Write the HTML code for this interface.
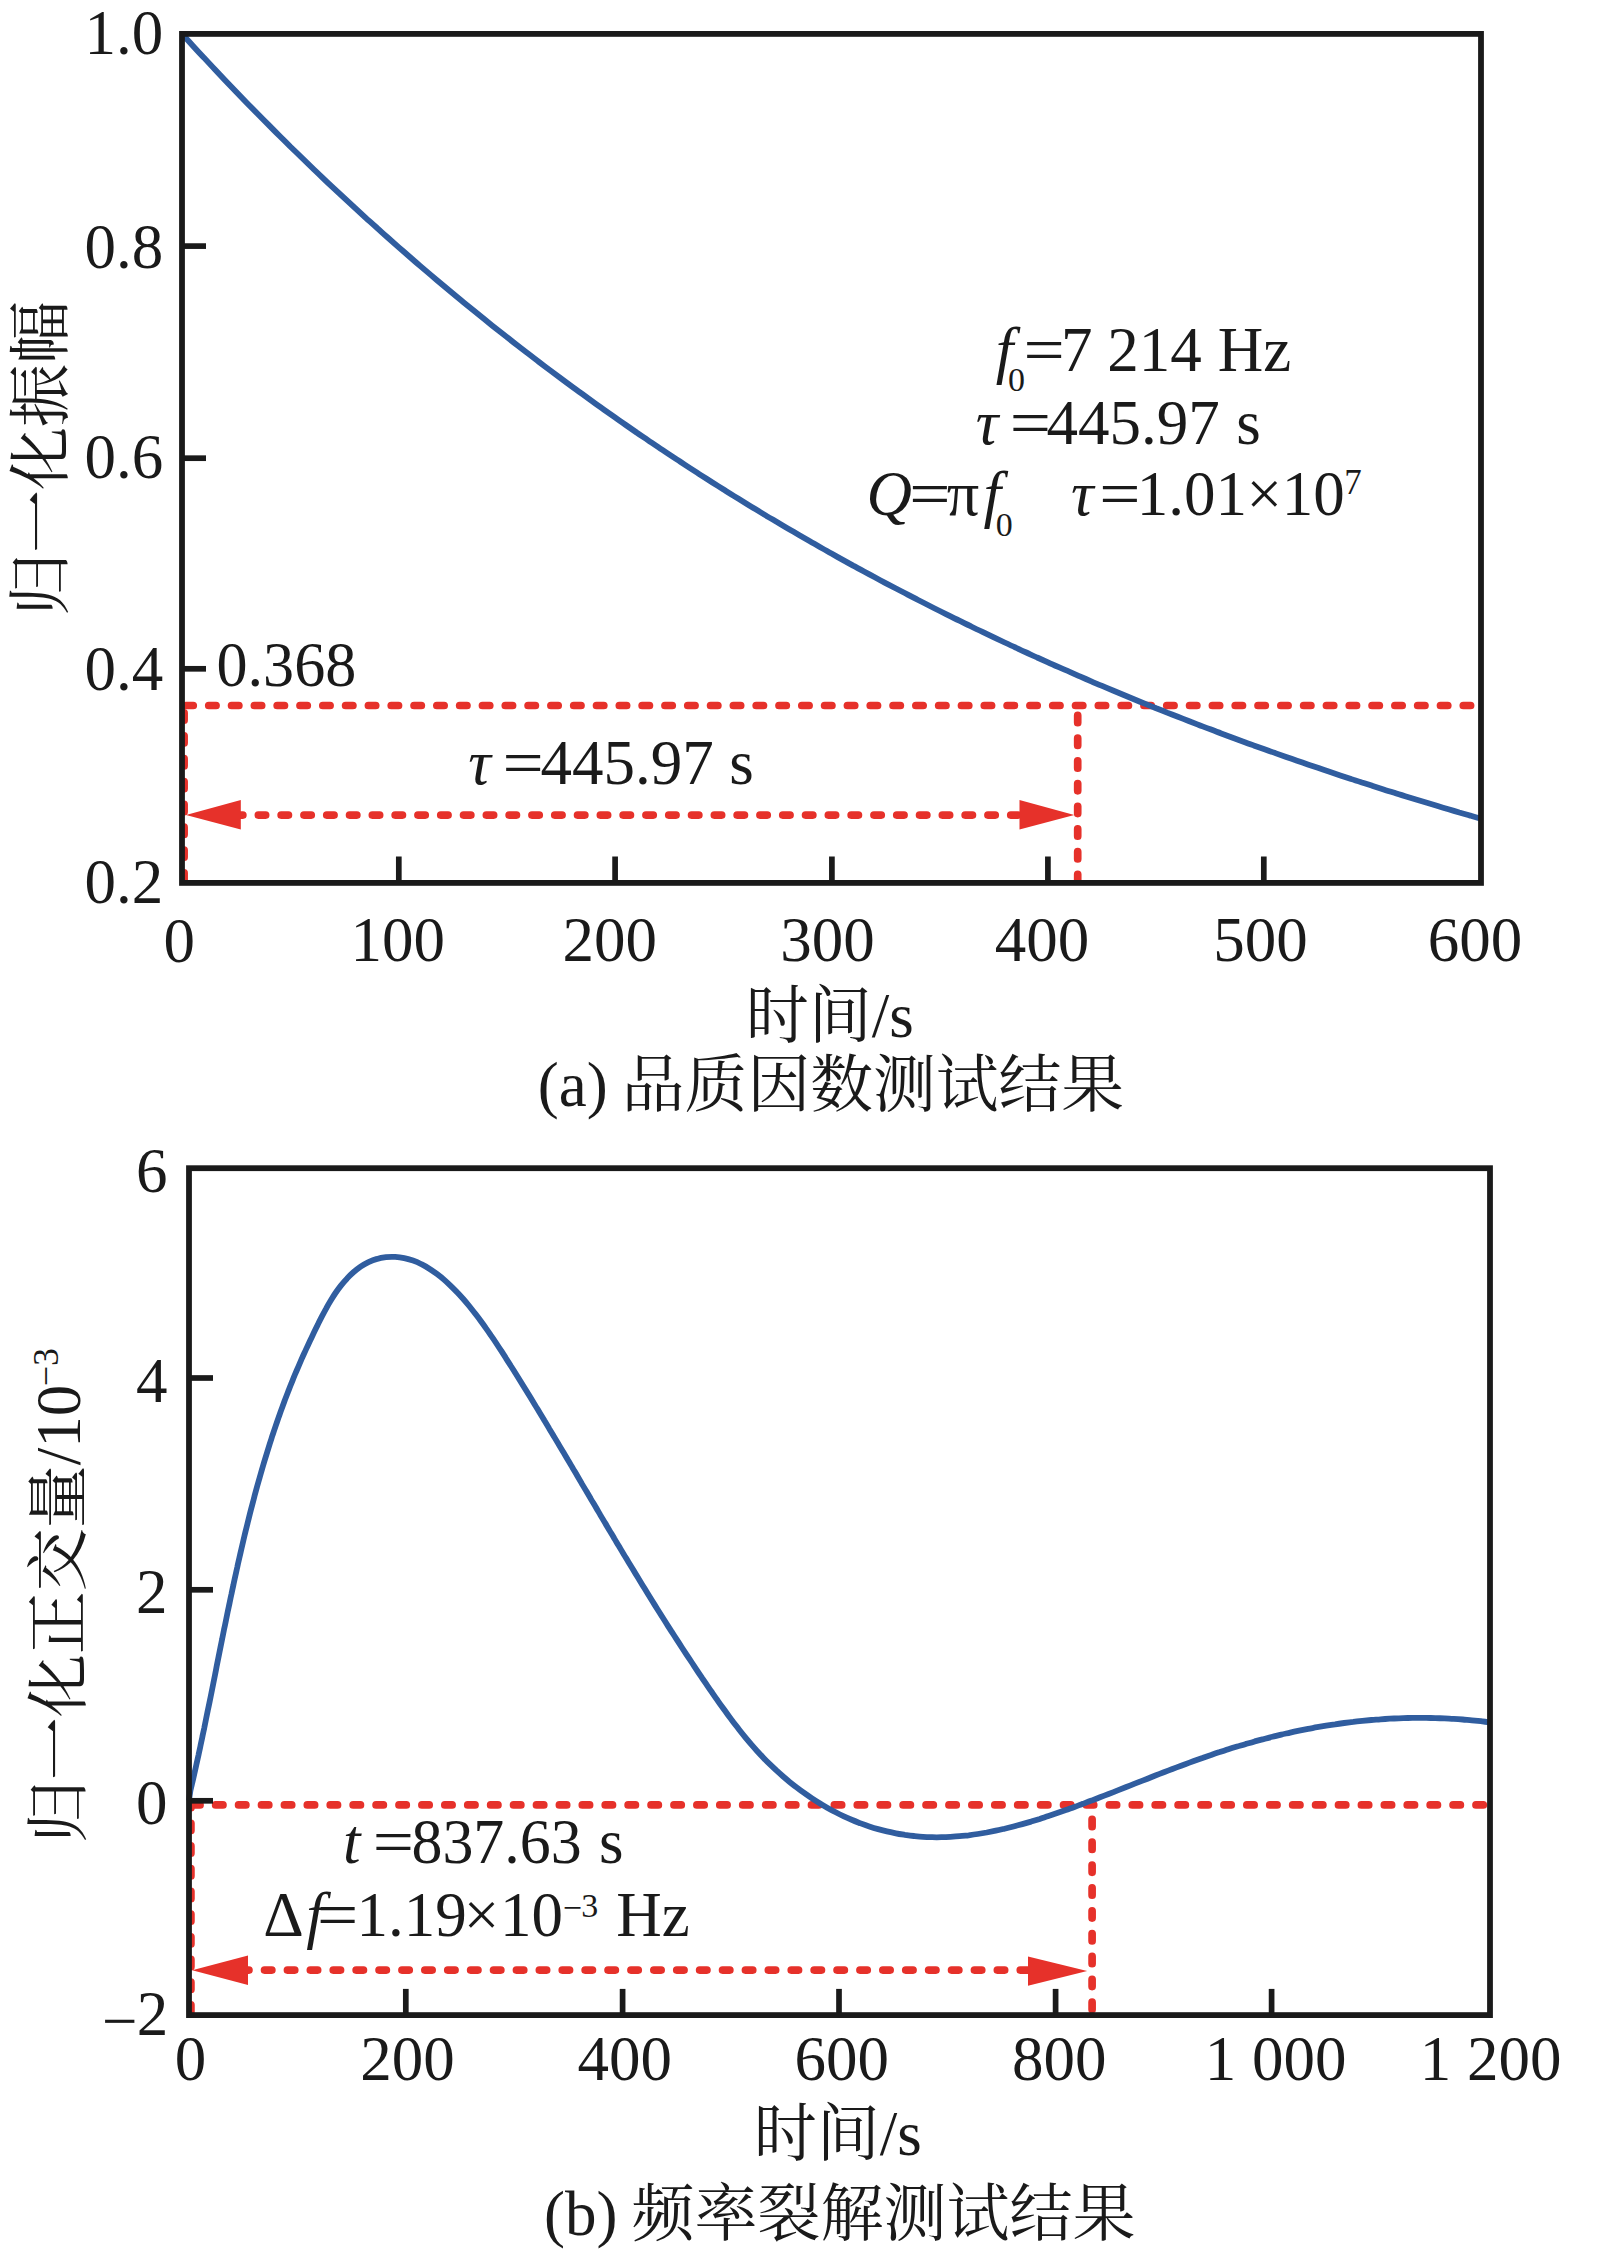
<!DOCTYPE html>
<html lang="zh">
<head>
<meta charset="utf-8">
<title>品质因数与频率裂解测试结果</title>
<style>
html,body{margin:0;padding:0;background:#fff;}
body{width:1598px;height:2261px;overflow:hidden;}
svg{display:block;}
text{fill:#1a1a1a;}
</style>
</head>
<body>
<svg width="1598" height="2261" viewBox="0 0 1598 2261">
<rect x="0" y="0" width="1598" height="2261" fill="#ffffff"/>
<g id="chart-a">
<path d="M185.94,705.5 H1478" fill="none" stroke="#e6312a" stroke-width="7.7" stroke-linecap="round" stroke-dasharray="7.3 15.510" stroke-dashoffset="0.00"/>
<path d="M184.1,705.5 V880" fill="none" stroke="#e6312a" stroke-width="7.7" stroke-linecap="round" stroke-dasharray="7.3 15.550" stroke-dashoffset="15.40"/>
<path d="M1077.7,705.5 V880" fill="none" stroke="#e6312a" stroke-width="7.7" stroke-linecap="round" stroke-dasharray="7.3 15.400" stroke-dashoffset="12.75"/>
<path d="M235.55,815.1 H1019" fill="none" stroke="#e6312a" stroke-width="7.7" stroke-linecap="round" stroke-dasharray="7.3 15.500" stroke-dashoffset="0.00"/>
<polygon points="186,815 240.8,800.1 240.8,829.6" fill="#e6312a"/>
<polygon points="1074.3,814.9 1019.5,800.1 1019.5,829.6" fill="#e6312a"/>
<path d="M182.0,33.9 C183.8,35.9 189.2,41.8 192.8,45.7 C196.4,49.7 200.0,53.6 203.7,57.4 C207.3,61.3 210.9,65.2 214.5,69.0 C218.1,72.8 221.7,76.6 225.3,80.4 C228.9,84.2 232.5,88.0 236.1,91.8 C239.7,95.5 243.3,99.2 246.9,102.9 C250.6,106.6 254.2,110.3 257.8,114.0 C261.4,117.7 265.0,121.3 268.6,124.9 C272.2,128.6 275.8,132.2 279.4,135.8 C283.0,139.3 286.6,142.9 290.2,146.5 C293.9,150.0 297.5,153.5 301.1,157.0 C304.7,160.5 308.3,164.0 311.9,167.5 C315.5,171.0 319.1,174.4 322.7,177.8 C326.3,181.3 329.9,184.7 333.6,188.1 C337.2,191.5 340.8,194.8 344.4,198.2 C348.0,201.5 351.6,204.9 355.2,208.2 C358.8,211.5 362.4,214.8 366.0,218.1 C369.6,221.3 373.2,224.6 376.9,227.8 C380.5,231.1 384.1,234.3 387.7,237.5 C391.3,240.7 394.9,243.9 398.5,247.1 C402.1,250.2 405.7,253.4 409.3,256.5 C412.9,259.7 416.5,262.8 420.1,265.9 C423.8,269.0 427.4,272.1 431.0,275.1 C434.6,278.2 438.2,281.2 441.8,284.3 C445.4,287.3 449.0,290.3 452.6,293.3 C456.2,296.3 459.8,299.3 463.4,302.2 C467.1,305.2 470.7,308.2 474.3,311.1 C477.9,314.0 481.5,316.9 485.1,319.8 C488.7,322.7 492.3,325.6 495.9,328.5 C499.5,331.3 503.1,334.2 506.8,337.0 C510.4,339.9 514.0,342.7 517.6,345.5 C521.2,348.3 524.8,351.1 528.4,353.8 C532.0,356.6 535.6,359.4 539.2,362.1 C542.8,364.8 546.4,367.6 550.0,370.3 C553.7,373.0 557.3,375.7 560.9,378.3 C564.5,381.0 568.1,383.7 571.7,386.3 C575.3,389.0 578.9,391.6 582.5,394.2 C586.1,396.9 589.7,399.5 593.4,402.1 C597.0,404.6 600.6,407.2 604.2,409.8 C607.8,412.3 611.4,414.9 615.0,417.4 C618.6,420.0 622.2,422.5 625.8,425.0 C629.4,427.5 633.0,430.0 636.6,432.5 C640.3,434.9 643.9,437.4 647.5,439.8 C651.1,442.3 654.7,444.7 658.3,447.1 C661.9,449.6 665.5,452.0 669.1,454.4 C672.7,456.8 676.3,459.1 680.0,461.5 C683.6,463.9 687.2,466.2 690.8,468.6 C694.4,470.9 698.0,473.2 701.6,475.6 C705.2,477.9 708.8,480.2 712.4,482.5 C716.0,484.8 719.6,487.0 723.2,489.3 C726.9,491.6 730.5,493.8 734.1,496.1 C737.7,498.3 741.3,500.5 744.9,502.7 C748.5,505.0 752.1,507.2 755.7,509.3 C759.3,511.5 762.9,513.7 766.5,515.9 C770.2,518.0 773.8,520.2 777.4,522.3 C781.0,524.5 784.6,526.6 788.2,528.7 C791.8,530.8 795.4,532.9 799.0,535.0 C802.6,537.1 806.2,539.2 809.9,541.3 C813.5,543.3 817.1,545.4 820.7,547.5 C824.3,549.5 827.9,551.5 831.5,553.6 C835.1,555.6 838.7,557.6 842.3,559.6 C845.9,561.6 849.5,563.6 853.1,565.6 C856.8,567.5 860.4,569.5 864.0,571.5 C867.6,573.4 871.2,575.4 874.8,577.3 C878.4,579.2 882.0,581.2 885.6,583.1 C889.2,585.0 892.8,586.9 896.5,588.8 C900.1,590.7 903.7,592.6 907.3,594.4 C910.9,596.3 914.5,598.2 918.1,600.0 C921.7,601.9 925.3,603.7 928.9,605.5 C932.5,607.4 936.1,609.2 939.8,611.0 C943.4,612.8 947.0,614.6 950.6,616.4 C954.2,618.2 957.8,620.0 961.4,621.7 C965.0,623.5 968.6,625.3 972.2,627.0 C975.8,628.8 979.4,630.5 983.0,632.2 C986.7,634.0 990.3,635.7 993.9,637.4 C997.5,639.1 1001.1,640.8 1004.7,642.5 C1008.3,644.2 1011.9,645.9 1015.5,647.5 C1019.1,649.2 1022.7,650.9 1026.3,652.5 C1030.0,654.2 1033.6,655.8 1037.2,657.5 C1040.8,659.1 1044.4,660.7 1048.0,662.3 C1051.6,664.0 1055.2,665.6 1058.8,667.2 C1062.4,668.8 1066.0,670.4 1069.7,671.9 C1073.3,673.5 1076.9,675.1 1080.5,676.7 C1084.1,678.2 1087.7,679.8 1091.3,681.3 C1094.9,682.9 1098.5,684.4 1102.1,685.9 C1105.7,687.5 1109.3,689.0 1113.0,690.5 C1116.6,692.0 1120.2,693.5 1123.8,695.0 C1127.4,696.5 1131.0,698.0 1134.6,699.5 C1138.2,701.0 1141.8,702.4 1145.4,703.9 C1149.0,705.4 1152.6,706.8 1156.2,708.3 C1159.9,709.7 1163.5,711.1 1167.1,712.6 C1170.7,714.0 1174.3,715.4 1177.9,716.8 C1181.5,718.2 1185.1,719.6 1188.7,721.0 C1192.3,722.4 1195.9,723.8 1199.5,725.2 C1203.2,726.6 1206.8,728.0 1210.4,729.3 C1214.0,730.7 1217.6,732.1 1221.2,733.4 C1224.8,734.8 1228.4,736.1 1232.0,737.5 C1235.6,738.8 1239.2,740.1 1242.8,741.4 C1246.5,742.8 1250.1,744.1 1253.7,745.4 C1257.3,746.7 1260.9,748.0 1264.5,749.3 C1268.1,750.6 1271.7,751.9 1275.3,753.1 C1278.9,754.4 1282.5,755.7 1286.2,757.0 C1289.8,758.2 1293.4,759.5 1297.0,760.7 C1300.6,762.0 1304.2,763.2 1307.8,764.5 C1311.4,765.7 1315.0,766.9 1318.6,768.1 C1322.2,769.4 1325.8,770.6 1329.5,771.8 C1333.1,773.0 1336.7,774.2 1340.3,775.4 C1343.9,776.6 1347.5,777.8 1351.1,779.0 C1354.7,780.1 1358.3,781.3 1361.9,782.5 C1365.5,783.6 1369.1,784.8 1372.8,786.0 C1376.4,787.1 1380.0,788.3 1383.6,789.4 C1387.2,790.6 1390.8,791.7 1394.4,792.8 C1398.0,794.0 1401.6,795.1 1405.2,796.2 C1408.8,797.3 1412.4,798.4 1416.0,799.5 C1419.7,800.6 1423.3,801.7 1426.9,802.8 C1430.5,803.9 1434.1,805.0 1437.7,806.1 C1441.3,807.2 1444.9,808.2 1448.5,809.3 C1452.1,810.4 1455.7,811.4 1459.3,812.5 C1463.0,813.5 1466.6,814.6 1470.2,815.6 C1473.8,816.7 1479.2,818.2 1481.0,818.8" fill="none" stroke="#305d9f" stroke-width="5.8" stroke-linejoin="round"/>
<g stroke="#1a1a1a" stroke-width="5.7" fill="none">
<path d="M182.0,246.1 H206"/>
<path d="M182.0,458.2 H206"/>
<path d="M182.0,668.8 H206"/>
<path d="M398.8,882.9 V856.5"/>
<path d="M615.1,882.9 V856.5"/>
<path d="M831.9,882.9 V856.5"/>
<path d="M1047.9,882.9 V856.5"/>
<path d="M1263.8,882.9 V856.5"/>
</g>
<rect x="182.0" y="33.9" width="1299.0" height="849.0" fill="none" stroke="#1a1a1a" stroke-width="5.8"/>
<text x="163.2" y="54.0" font-size="63" text-anchor="end" font-family='"Liberation Serif", "Noto Serif CJK SC", serif' >1.0</text>
<text x="163.2" y="267.5" font-size="63" text-anchor="end" font-family='"Liberation Serif", "Noto Serif CJK SC", serif' >0.8</text>
<text x="163.2" y="478.0" font-size="63" text-anchor="end" font-family='"Liberation Serif", "Noto Serif CJK SC", serif' >0.6</text>
<text x="163.2" y="690.2" font-size="63" text-anchor="end" font-family='"Liberation Serif", "Noto Serif CJK SC", serif' >0.4</text>
<text x="163.2" y="903.0" font-size="63" text-anchor="end" font-family='"Liberation Serif", "Noto Serif CJK SC", serif' >0.2</text>
<text x="179.2" y="962.0" font-size="63" text-anchor="middle" font-family='"Liberation Serif", "Noto Serif CJK SC", serif' >0</text>
<text x="397.8" y="960.6" font-size="63" text-anchor="middle" font-family='"Liberation Serif", "Noto Serif CJK SC", serif' >100</text>
<text x="609.8" y="960.6" font-size="63" text-anchor="middle" font-family='"Liberation Serif", "Noto Serif CJK SC", serif' >200</text>
<text x="827.6" y="960.6" font-size="63" text-anchor="middle" font-family='"Liberation Serif", "Noto Serif CJK SC", serif' >300</text>
<text x="1041.9" y="960.6" font-size="63" text-anchor="middle" font-family='"Liberation Serif", "Noto Serif CJK SC", serif' >400</text>
<text x="1260.6" y="960.6" font-size="63" text-anchor="middle" font-family='"Liberation Serif", "Noto Serif CJK SC", serif' >500</text>
<text x="1475.0" y="960.6" font-size="63" text-anchor="middle" font-family='"Liberation Serif", "Noto Serif CJK SC", serif' >600</text>
<text transform="translate(62,616) rotate(-90)" font-size="63" font-family='"Noto Serif CJK SC", "Liberation Serif", serif'>归一化振幅</text>
<text x="745.7" y="1036.8" font-size="63" font-family='"Noto Serif CJK SC", "Liberation Serif", serif'>时间<tspan font-family='"Liberation Serif", "Noto Serif CJK SC", serif' font-size="63">/s</tspan></text>
<text x="537.8" y="1106.4" font-size="63" font-family='"Liberation Serif", "Noto Serif CJK SC", serif'>(a)</text>
<text x="621.8" y="1106.3" font-size="62.8" font-family='"Noto Serif CJK SC", "Liberation Serif", serif'>品质因数测试结果</text>
<text transform="translate(216.47,685.6) scale(0.9867,1)" font-size="63" font-family='"Liberation Serif", "Noto Serif CJK SC", serif'>0.368</text>
<text x="468.28" y="783.9" font-size="63" font-style="italic" font-family='"Liberation Serif", "Noto Serif CJK SC", serif'>τ</text>
<text transform="translate(502.44,783.9) scale(1.1606,1)" font-size="63" font-family='"Liberation Serif", "Noto Serif CJK SC", serif'>=</text>
<text x="540.41" y="783.9" font-size="63" font-family='"Liberation Serif", "Noto Serif CJK SC", serif'>445.97</text>
<text x="729.24" y="783.9" font-size="63" font-family='"Liberation Serif", "Noto Serif CJK SC", serif'>s</text>
<text x="995.87" y="370.5" font-size="63" font-style="italic" font-family='"Liberation Serif", "Noto Serif CJK SC", serif'>f</text>
<text x="1007.93" y="391.4" font-size="34" font-family='"Liberation Serif", "Noto Serif CJK SC", serif'>0</text>
<text transform="translate(1023.54,370.5) scale(1.1606,1)" font-size="63" font-family='"Liberation Serif", "Noto Serif CJK SC", serif'>=</text>
<text x="1060.97" y="370.5" font-size="63" font-family='"Liberation Serif", "Noto Serif CJK SC", serif'>7</text>
<text x="1107.28" y="370.5" font-size="63" font-family='"Liberation Serif", "Noto Serif CJK SC", serif'>214</text>
<text x="1217.80" y="370.5" font-size="63" font-family='"Liberation Serif", "Noto Serif CJK SC", serif'>Hz</text>
<text x="975.68" y="443.5" font-size="63" font-style="italic" font-family='"Liberation Serif", "Noto Serif CJK SC", serif'>τ</text>
<text transform="translate(1009.84,443.5) scale(1.1606,1)" font-size="63" font-family='"Liberation Serif", "Noto Serif CJK SC", serif'>=</text>
<text x="1046.61" y="443.5" font-size="63" font-family='"Liberation Serif", "Noto Serif CJK SC", serif'>445.97</text>
<text x="1236.14" y="443.5" font-size="63" font-family='"Liberation Serif", "Noto Serif CJK SC", serif'>s</text>
<text x="866.53" y="515.1" font-size="63" font-style="italic" font-family='"Liberation Serif", "Noto Serif CJK SC", serif'>Q</text>
<text transform="translate(909.14,515.1) scale(1.1606,1)" font-size="63" font-family='"Liberation Serif", "Noto Serif CJK SC", serif'>=</text>
<text transform="translate(946.80,515.1) scale(1.0205,1)" font-size="63" font-family='"Liberation Serif", "Noto Serif CJK SC", serif'>π</text>
<text x="983.57" y="515.1" font-size="63" font-style="italic" font-family='"Liberation Serif", "Noto Serif CJK SC", serif'>f</text>
<text x="995.73" y="535.5" font-size="34" font-family='"Liberation Serif", "Noto Serif CJK SC", serif'>0</text>
<text x="1070.98" y="515.1" font-size="63" font-style="italic" font-family='"Liberation Serif", "Noto Serif CJK SC", serif'>τ</text>
<text transform="translate(1099.14,515.1) scale(1.1606,1)" font-size="63" font-family='"Liberation Serif", "Noto Serif CJK SC", serif'>=</text>
<text x="1136.71" y="515.1" font-size="63" font-family='"Liberation Serif", "Noto Serif CJK SC", serif'>1.01</text>
<text x="1246.50" y="515.1" font-size="63" font-family='"Liberation Serif", "Noto Serif CJK SC", serif'>×</text>
<text x="1281.72" y="515.1" font-size="63" font-family='"Liberation Serif", "Noto Serif CJK SC", serif'>10</text>
<text x="1344.29" y="494.0" font-size="35" font-family='"Liberation Serif", "Noto Serif CJK SC", serif'>7</text>
</g>
<g id="chart-b">
<path d="M192.75,1804.9 H1487" fill="none" stroke="#e6312a" stroke-width="7.7" stroke-linecap="round" stroke-dasharray="7.3 15.615" stroke-dashoffset="0.00"/>
<path d="M190.9,1805 V2012" fill="none" stroke="#e6312a" stroke-width="7.7" stroke-linecap="round" stroke-dasharray="7.3 15.400" stroke-dashoffset="4.45"/>
<path d="M1092.1,1805 V2012" fill="none" stroke="#e6312a" stroke-width="7.7" stroke-linecap="round" stroke-dasharray="7.3 15.550" stroke-dashoffset="8.50"/>
<path d="M241.65,1970.1 H1028" fill="none" stroke="#e6312a" stroke-width="7.7" stroke-linecap="round" stroke-dasharray="7.3 15.600" stroke-dashoffset="0.00"/>
<polygon points="192.2,1970.2 248,1955.4 248,1984.9" fill="#e6312a"/>
<polygon points="1087.2,1971 1028,1956.4 1028,1985.7" fill="#e6312a"/>
<path d="M189.0,1800.5 C189.2,1798.9 189.9,1793.9 190.4,1790.8 C191.0,1787.7 191.8,1784.9 192.5,1781.9 C193.2,1778.9 193.9,1775.9 194.5,1773.0 C195.2,1770.0 195.9,1767.0 196.5,1764.0 C197.2,1761.1 197.8,1758.1 198.5,1755.1 C199.1,1752.1 199.8,1749.2 200.4,1746.2 C201.0,1743.2 201.7,1740.2 202.3,1737.2 C202.9,1734.3 203.5,1731.3 204.2,1728.3 C204.8,1725.3 205.4,1722.3 206.0,1719.3 C206.6,1716.4 207.2,1713.4 207.8,1710.4 C208.5,1707.4 209.1,1704.4 209.7,1701.4 C210.3,1698.4 210.9,1695.5 211.5,1692.5 C212.1,1689.5 212.7,1686.5 213.3,1683.5 C213.9,1680.5 214.5,1677.5 215.1,1674.5 C215.7,1671.6 216.3,1668.6 216.8,1665.6 C217.4,1662.6 218.0,1659.6 218.6,1656.6 C219.2,1653.6 219.8,1650.6 220.4,1647.6 C221.0,1644.7 221.6,1641.7 222.2,1638.7 C222.8,1635.7 223.4,1632.7 224.0,1629.7 C224.7,1626.7 225.3,1623.8 225.9,1620.8 C226.5,1617.8 227.1,1614.8 227.7,1611.8 C228.3,1608.8 229.0,1605.9 229.6,1602.9 C230.2,1599.9 230.8,1596.9 231.5,1593.9 C232.1,1590.9 232.7,1588.0 233.4,1585.0 C234.0,1582.0 234.7,1579.0 235.3,1576.1 C236.0,1573.1 236.6,1570.1 237.3,1567.1 C237.9,1564.2 238.6,1561.2 239.3,1558.2 C240.0,1555.2 240.6,1552.3 241.3,1549.3 C242.0,1546.3 242.7,1543.4 243.4,1540.4 C244.1,1537.4 244.8,1534.5 245.5,1531.5 C246.3,1528.5 247.0,1525.6 247.7,1522.6 C248.4,1519.7 249.2,1516.7 249.9,1513.8 C250.7,1510.8 251.4,1507.9 252.2,1504.9 C253.0,1502.0 253.8,1499.0 254.5,1496.1 C255.3,1493.1 256.1,1490.2 256.9,1487.3 C257.7,1484.3 258.6,1481.4 259.4,1478.5 C260.2,1475.5 261.1,1472.6 261.9,1469.7 C262.8,1466.7 263.6,1463.8 264.5,1460.9 C265.4,1458.0 266.3,1455.1 267.2,1452.2 C268.1,1449.2 269.0,1446.3 269.9,1443.4 C270.8,1440.5 271.8,1437.6 272.7,1434.7 C273.7,1431.8 274.6,1429.0 275.6,1426.1 C276.6,1423.2 277.6,1420.3 278.6,1417.4 C279.6,1414.6 280.6,1411.7 281.7,1408.8 C282.7,1406.0 283.8,1403.1 284.8,1400.2 C285.9,1397.4 287.0,1394.5 288.1,1391.7 C289.2,1388.9 290.3,1386.0 291.5,1383.2 C292.6,1380.4 293.7,1377.5 294.9,1374.7 C296.1,1371.9 297.3,1369.1 298.5,1366.3 C299.7,1363.5 300.9,1360.7 302.1,1357.9 C303.4,1355.2 304.6,1352.4 305.9,1349.6 C307.2,1346.8 308.5,1344.1 309.8,1341.3 C311.1,1338.6 312.4,1335.8 313.7,1333.1 C315.0,1330.3 316.3,1327.6 317.7,1324.9 C319.0,1322.1 320.4,1319.4 321.8,1316.7 C323.2,1314.0 324.6,1311.3 326.1,1308.6 C327.5,1305.9 329.0,1303.3 330.6,1300.7 C332.2,1298.1 333.8,1295.5 335.5,1293.0 C337.2,1290.5 339.0,1288.0 340.9,1285.6 C342.8,1283.2 344.8,1280.9 346.9,1278.7 C348.9,1276.4 351.1,1274.3 353.4,1272.3 C355.7,1270.3 358.1,1268.4 360.6,1266.7 C363.1,1265.0 365.8,1263.4 368.5,1262.1 C371.3,1260.8 374.2,1259.7 377.1,1258.9 C380.0,1258.0 383.0,1257.5 386.0,1257.1 C389.0,1256.8 392.1,1256.7 395.2,1256.9 C398.2,1257.1 401.2,1257.5 404.2,1258.1 C407.2,1258.7 410.1,1259.6 413.0,1260.6 C415.9,1261.6 418.7,1262.8 421.4,1264.2 C424.1,1265.5 426.8,1267.1 429.3,1268.7 C431.9,1270.3 434.4,1272.1 436.9,1273.9 C439.3,1275.7 441.7,1277.6 444.0,1279.6 C446.3,1281.6 448.5,1283.7 450.7,1285.8 C452.9,1287.9 455.1,1290.1 457.1,1292.3 C459.2,1294.5 461.3,1296.8 463.3,1299.0 C465.3,1301.3 467.3,1303.7 469.2,1306.0 C471.1,1308.4 473.0,1310.8 474.9,1313.2 C476.7,1315.6 478.6,1318.0 480.4,1320.5 C482.2,1322.9 484.0,1325.4 485.7,1327.9 C487.5,1330.4 489.2,1332.9 490.9,1335.4 C492.7,1337.9 494.4,1340.4 496.1,1343.0 C497.7,1345.5 499.4,1348.1 501.1,1350.6 C502.7,1353.2 504.4,1355.7 506.0,1358.3 C507.7,1360.9 509.3,1363.4 510.9,1366.0 C512.6,1368.6 514.2,1371.2 515.8,1373.7 C517.4,1376.3 519.0,1378.9 520.6,1381.5 C522.2,1384.1 523.8,1386.7 525.4,1389.3 C527.0,1391.9 528.6,1394.5 530.2,1397.1 C531.8,1399.7 533.4,1402.3 535.0,1404.9 C536.6,1407.5 538.1,1410.1 539.7,1412.7 C541.3,1415.3 542.9,1417.9 544.4,1420.5 C546.0,1423.1 547.6,1425.8 549.1,1428.4 C550.7,1431.0 552.3,1433.6 553.8,1436.2 C555.4,1438.8 556.9,1441.5 558.5,1444.1 C560.0,1446.7 561.6,1449.3 563.2,1451.9 C564.7,1454.6 566.3,1457.2 567.8,1459.8 C569.4,1462.4 570.9,1465.0 572.5,1467.7 C574.0,1470.3 575.6,1472.9 577.1,1475.5 C578.7,1478.2 580.2,1480.8 581.7,1483.4 C583.3,1486.0 584.8,1488.7 586.4,1491.3 C587.9,1493.9 589.5,1496.5 591.0,1499.2 C592.6,1501.8 594.1,1504.4 595.7,1507.0 C597.2,1509.7 598.8,1512.3 600.3,1514.9 C601.9,1517.5 603.4,1520.2 605.0,1522.8 C606.5,1525.4 608.1,1528.0 609.6,1530.6 C611.2,1533.3 612.8,1535.9 614.3,1538.5 C615.9,1541.1 617.4,1543.7 619.0,1546.3 C620.6,1549.0 622.1,1551.6 623.7,1554.2 C625.3,1556.8 626.8,1559.4 628.4,1562.0 C630.0,1564.6 631.6,1567.2 633.2,1569.8 C634.7,1572.4 636.3,1575.0 637.9,1577.6 C639.5,1580.2 641.1,1582.8 642.7,1585.4 C644.3,1588.0 645.9,1590.6 647.5,1593.2 C649.1,1595.8 650.7,1598.4 652.3,1601.0 C653.9,1603.6 655.5,1606.1 657.1,1608.7 C658.8,1611.3 660.4,1613.9 662.0,1616.5 C663.6,1619.0 665.3,1621.6 666.9,1624.2 C668.5,1626.8 670.2,1629.3 671.8,1631.9 C673.5,1634.5 675.1,1637.0 676.8,1639.6 C678.4,1642.1 680.1,1644.7 681.7,1647.2 C683.4,1649.8 685.1,1652.4 686.7,1654.9 C688.4,1657.4 690.1,1660.0 691.8,1662.5 C693.5,1665.1 695.2,1667.6 696.8,1670.1 C698.5,1672.7 700.2,1675.2 701.9,1677.7 C703.7,1680.2 705.4,1682.8 707.1,1685.3 C708.8,1687.8 710.5,1690.3 712.3,1692.8 C714.0,1695.3 715.7,1697.8 717.5,1700.3 C719.2,1702.8 721.0,1705.3 722.8,1707.8 C724.6,1710.2 726.4,1712.7 728.2,1715.2 C730.0,1717.6 731.8,1720.1 733.6,1722.5 C735.5,1724.9 737.3,1727.3 739.2,1729.7 C741.1,1732.1 743.0,1734.5 744.9,1736.8 C746.9,1739.2 748.8,1741.5 750.8,1743.9 C752.8,1746.2 754.8,1748.5 756.8,1750.7 C758.9,1753.0 761.0,1755.2 763.1,1757.4 C765.2,1759.6 767.3,1761.8 769.5,1763.9 C771.7,1766.0 773.9,1768.1 776.1,1770.2 C778.4,1772.3 780.6,1774.3 782.9,1776.3 C785.2,1778.3 787.6,1780.3 789.9,1782.2 C792.3,1784.1 794.7,1786.0 797.1,1787.8 C799.5,1789.7 802.0,1791.5 804.5,1793.2 C807.0,1795.0 809.5,1796.7 812.0,1798.4 C814.6,1800.1 817.1,1801.7 819.7,1803.3 C822.3,1804.9 825.0,1806.4 827.6,1807.9 C830.3,1809.4 833.0,1810.9 835.7,1812.3 C838.4,1813.7 841.1,1815.0 843.9,1816.3 C846.6,1817.6 849.4,1818.8 852.2,1820.0 C855.0,1821.2 857.9,1822.3 860.7,1823.4 C863.6,1824.5 866.4,1825.5 869.3,1826.4 C872.2,1827.4 875.1,1828.3 878.1,1829.1 C881.0,1829.9 884.0,1830.7 886.9,1831.4 C889.9,1832.1 892.9,1832.7 895.9,1833.3 C898.8,1833.9 901.9,1834.4 904.9,1834.9 C907.9,1835.3 910.9,1835.7 913.9,1836.0 C917.0,1836.3 920.0,1836.6 923.0,1836.8 C926.1,1837.0 929.1,1837.1 932.2,1837.2 C935.2,1837.3 938.3,1837.3 941.3,1837.2 C944.4,1837.2 947.4,1837.1 950.4,1836.9 C953.5,1836.7 956.5,1836.5 959.6,1836.2 C962.6,1836.0 965.6,1835.6 968.6,1835.3 C971.7,1834.9 974.7,1834.5 977.7,1834.0 C980.7,1833.5 983.7,1833.0 986.7,1832.5 C989.7,1831.9 992.7,1831.3 995.7,1830.7 C998.7,1830.1 1001.6,1829.4 1004.6,1828.7 C1007.6,1828.0 1010.5,1827.3 1013.5,1826.5 C1016.4,1825.7 1019.4,1824.9 1022.3,1824.1 C1025.2,1823.3 1028.2,1822.4 1031.1,1821.6 C1034.0,1820.7 1036.9,1819.8 1039.8,1818.9 C1042.7,1817.9 1045.6,1817.0 1048.5,1816.0 C1051.4,1815.1 1054.3,1814.1 1057.2,1813.1 C1060.0,1812.1 1062.9,1811.1 1065.8,1810.1 C1068.7,1809.1 1071.5,1808.0 1074.4,1807.0 C1077.2,1805.9 1080.1,1804.9 1082.9,1803.8 C1085.8,1802.7 1088.6,1801.6 1091.5,1800.6 C1094.3,1799.5 1097.2,1798.4 1100.0,1797.3 C1102.9,1796.2 1105.7,1795.1 1108.6,1794.0 C1111.4,1792.9 1114.2,1791.8 1117.1,1790.6 C1119.9,1789.5 1122.7,1788.4 1125.6,1787.3 C1128.4,1786.2 1131.2,1785.1 1134.1,1783.9 C1136.9,1782.8 1139.7,1781.7 1142.6,1780.6 C1145.4,1779.5 1148.2,1778.4 1151.1,1777.2 C1153.9,1776.1 1156.8,1775.0 1159.6,1773.9 C1162.4,1772.8 1165.3,1771.7 1168.1,1770.6 C1171.0,1769.5 1173.8,1768.5 1176.7,1767.4 C1179.5,1766.3 1182.4,1765.2 1185.2,1764.2 C1188.1,1763.1 1190.9,1762.1 1193.8,1761.0 C1196.7,1760.0 1199.5,1759.0 1202.4,1758.0 C1205.3,1756.9 1208.2,1755.9 1211.1,1755.0 C1213.9,1754.0 1216.8,1753.0 1219.7,1752.1 C1222.6,1751.1 1225.5,1750.2 1228.4,1749.2 C1231.3,1748.3 1234.2,1747.4 1237.1,1746.5 C1240.1,1745.6 1243.0,1744.8 1245.9,1743.9 C1248.8,1743.1 1251.8,1742.3 1254.7,1741.4 C1257.6,1740.6 1260.6,1739.8 1263.5,1739.1 C1266.5,1738.3 1269.4,1737.5 1272.4,1736.8 C1275.3,1736.1 1278.3,1735.3 1281.3,1734.6 C1284.2,1733.9 1287.2,1733.3 1290.2,1732.6 C1293.2,1731.9 1296.1,1731.3 1299.1,1730.7 C1302.1,1730.1 1305.1,1729.5 1308.1,1728.9 C1311.1,1728.3 1314.1,1727.8 1317.1,1727.2 C1320.1,1726.7 1323.1,1726.2 1326.1,1725.7 C1329.1,1725.2 1332.1,1724.7 1335.1,1724.3 C1338.1,1723.8 1341.1,1723.4 1344.2,1723.0 C1347.2,1722.6 1350.2,1722.2 1353.2,1721.9 C1356.3,1721.5 1359.3,1721.2 1362.3,1720.9 C1365.4,1720.6 1368.4,1720.3 1371.4,1720.0 C1374.5,1719.8 1377.5,1719.5 1380.5,1719.3 C1383.6,1719.1 1386.6,1718.9 1389.7,1718.7 C1392.7,1718.6 1395.7,1718.4 1398.8,1718.3 C1401.8,1718.2 1404.9,1718.1 1407.9,1718.0 C1411.0,1718.0 1414.0,1717.9 1417.1,1717.9 C1420.1,1717.9 1423.2,1717.9 1426.2,1717.9 C1429.3,1718.0 1432.3,1718.0 1435.3,1718.1 C1438.4,1718.2 1441.4,1718.3 1444.5,1718.4 C1447.5,1718.6 1450.6,1718.7 1453.6,1718.9 C1456.6,1719.1 1459.7,1719.3 1462.7,1719.5 C1465.8,1719.8 1468.8,1720.0 1471.8,1720.3 C1474.9,1720.6 1477.9,1720.9 1480.9,1721.2 C1484.0,1721.6 1488.5,1722.2 1490.0,1722.3" fill="none" stroke="#305d9f" stroke-width="5.8" stroke-linejoin="round"/>
<g stroke="#1a1a1a" stroke-width="5.7" fill="none">
<path d="M189.0,1378.0 H213"/>
<path d="M189.0,1589.8 H213"/>
<path d="M189.0,1800.8 H213"/>
<path d="M405.8,2015.1 V1988.9"/>
<path d="M622.6,2015.1 V1988.9"/>
<path d="M839.0,2015.1 V1988.9"/>
<path d="M1055.6,2015.1 V1988.9"/>
<path d="M1271.6,2015.1 V1988.9"/>
</g>
<rect x="189.0" y="1168.2" width="1301.0" height="846.8999999999999" fill="none" stroke="#1a1a1a" stroke-width="5.8"/>
<text x="167.4" y="1191.5" font-size="63" text-anchor="end" font-family='"Liberation Serif", "Noto Serif CJK SC", serif' >6</text>
<text x="167.4" y="1402.2" font-size="63" text-anchor="end" font-family='"Liberation Serif", "Noto Serif CJK SC", serif' >4</text>
<text x="167.4" y="1613.2" font-size="63" text-anchor="end" font-family='"Liberation Serif", "Noto Serif CJK SC", serif' >2</text>
<text x="167.4" y="1824.0" font-size="63" text-anchor="end" font-family='"Liberation Serif", "Noto Serif CJK SC", serif' >0</text>
<text x="167.4" y="2034.8" font-size="63" text-anchor="end" font-family='"Liberation Serif", "Noto Serif CJK SC", serif'><tspan dx="0.8" dy="7.5">−</tspan><tspan dx="-0.8" dy="-7.5">2</tspan></text>
<text x="190.6" y="2079.5" font-size="63" text-anchor="middle" font-family='"Liberation Serif", "Noto Serif CJK SC", serif' >0</text>
<text x="407.4" y="2079.5" font-size="63" text-anchor="middle" font-family='"Liberation Serif", "Noto Serif CJK SC", serif' >200</text>
<text x="624.7" y="2079.5" font-size="63" text-anchor="middle" font-family='"Liberation Serif", "Noto Serif CJK SC", serif' >400</text>
<text x="841.8" y="2079.5" font-size="63" text-anchor="middle" font-family='"Liberation Serif", "Noto Serif CJK SC", serif' >600</text>
<text x="1059.2" y="2079.5" font-size="63" text-anchor="middle" font-family='"Liberation Serif", "Noto Serif CJK SC", serif' >800</text>
<text x="1275.6" y="2079.5" font-size="63" text-anchor="middle" font-family='"Liberation Serif", "Noto Serif CJK SC", serif' >1 000</text>
<text x="1490.5" y="2079.5" font-size="63" text-anchor="middle" font-family='"Liberation Serif", "Noto Serif CJK SC", serif' >1 200</text>
<text transform="translate(80,1843.3) rotate(-90)" font-size="63" font-family='"Noto Serif CJK SC", "Liberation Serif", serif'>归一化正交量<tspan font-family='"Liberation Serif", "Noto Serif CJK SC", serif' font-size="63">/10</tspan><tspan font-family='"Liberation Serif", "Noto Serif CJK SC", serif' font-size="36" dx="-1.5" dy="-22">−3</tspan></text>
<text x="753.8" y="2155.0" font-size="63" font-family='"Noto Serif CJK SC", "Liberation Serif", serif'>时间<tspan font-family='"Liberation Serif", "Noto Serif CJK SC", serif' font-size="63">/s</tspan></text>
<text x="544.0" y="2234.7" font-size="63" font-family='"Liberation Serif", "Noto Serif CJK SC", serif'>(b)</text>
<text x="631.4" y="2235.4" font-size="63" font-family='"Noto Serif CJK SC", "Liberation Serif", serif'>频率裂解测试结果</text>
<text x="343.06" y="1862.5" font-size="63" font-style="italic" font-family='"Liberation Serif", "Noto Serif CJK SC", serif'>t</text>
<text transform="translate(372.84,1862.5) scale(1.1606,1)" font-size="63" font-family='"Liberation Serif", "Noto Serif CJK SC", serif'>=</text>
<text transform="translate(411.43,1862.5) scale(0.9830,1)" font-size="63" font-family='"Liberation Serif", "Noto Serif CJK SC", serif'>837.63</text>
<text x="598.94" y="1862.5" font-size="63" font-family='"Liberation Serif", "Noto Serif CJK SC", serif'>s</text>
<text x="263.34" y="1936.3" font-size="63" font-family='"Liberation Serif", "Noto Serif CJK SC", serif'>Δ</text>
<text x="306.27" y="1936.3" font-size="63" font-style="italic" font-family='"Liberation Serif", "Noto Serif CJK SC", serif'>f</text>
<text transform="translate(317.04,1936.3) scale(1.1606,1)" font-size="63" font-family='"Liberation Serif", "Noto Serif CJK SC", serif'>=</text>
<text x="356.38" y="1936.3" font-size="63" font-family='"Liberation Serif", "Noto Serif CJK SC", serif'>1.19</text>
<text x="463.80" y="1936.3" font-size="63" font-family='"Liberation Serif", "Noto Serif CJK SC", serif'>×</text>
<text x="500.03" y="1936.3" font-size="63" font-family='"Liberation Serif", "Noto Serif CJK SC", serif'>10</text>
<text x="562.69" y="1918.7" font-size="34" font-family='"Liberation Serif", "Noto Serif CJK SC", serif'>−</text>
<text x="581.37" y="1916.5" font-size="34" font-family='"Liberation Serif", "Noto Serif CJK SC", serif'>3</text>
<text x="616.20" y="1936.3" font-size="63" font-family='"Liberation Serif", "Noto Serif CJK SC", serif'>Hz</text>
</g>
</svg>
</body>
</html>
